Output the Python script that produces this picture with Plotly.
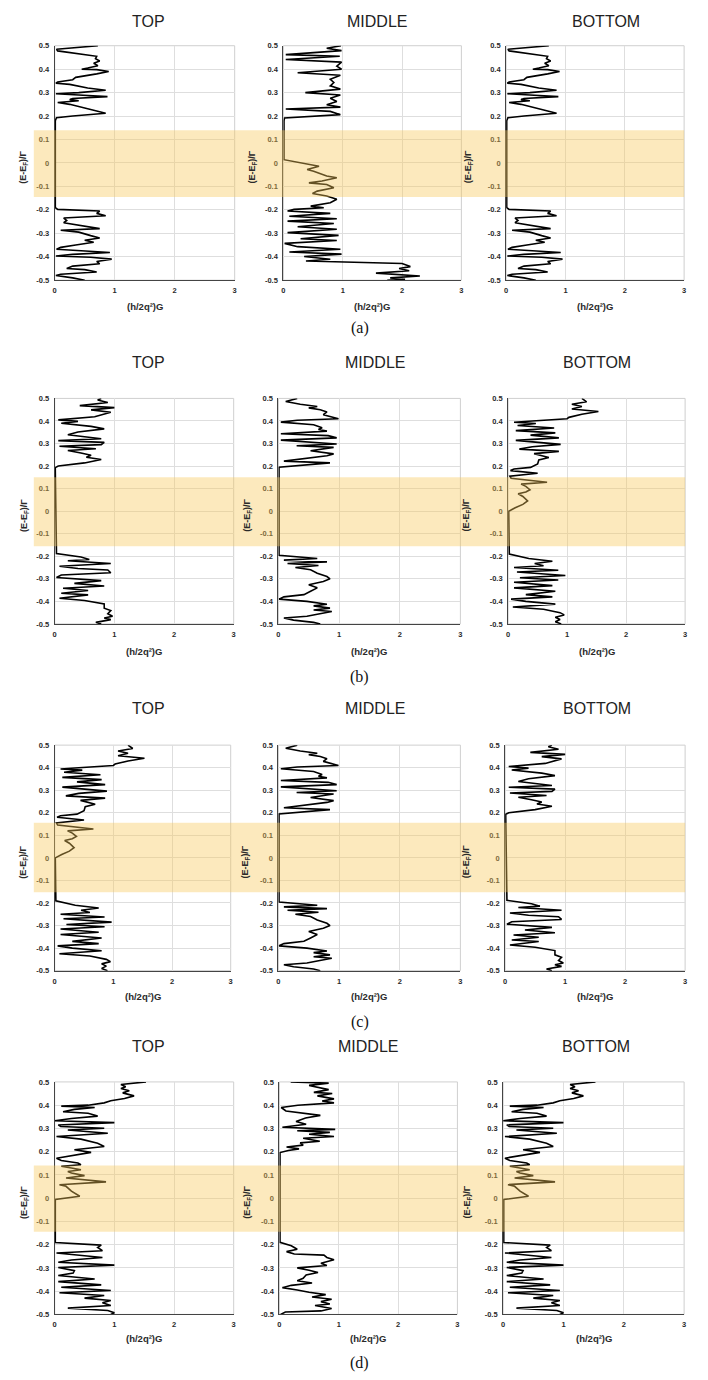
import plotly.graph_objects as go

W, H = 708, 1380

# ---------------- tick labels / texts ----------------
y_tick_vals = [0.5, 0.4, 0.3, 0.2, 0.1, 0.0, -0.1, -0.2, -0.3, -0.4, -0.5]
y_tick_text = ["0.5", "0.4", "0.3", "0.2", "0.1", "0", "-0.1", "-0.2", "-0.3", "-0.4", "-0.5"]
x_tick_vals = [0, 1, 2, 3]
x_tick_text = ["0", "1", "2", "3"]

column_titles = ["TOP", "MIDDLE", "BOTTOM"]
row_labels = ["(a)", "(b)", "(c)", "(d)"]
x_title = "(h/2q²)G"
y_title = "(E-E<sub>F</sub>)/Γ"

# ---------------- curves: energy (E) and conductance (G) ----------------
A_E = [0.500, 0.485, 0.478, 0.455, 0.445, 0.435, 0.425, 0.415, 0.405, 0.400, 0.398, 0.390, 0.380,
       0.365, 0.355, 0.345, 0.340, 0.335, 0.320, 0.310, 0.300, 0.295, 0.290, 0.283, 0.275, 0.270,
       0.265, 0.258, 0.250, 0.230, 0.212, 0.200, 0.193, 0.180, -0.190, -0.198, -0.205, -0.215,
       -0.225, -0.235, -0.245, -0.255, -0.265, -0.280, -0.287, -0.295, -0.310, -0.320, -0.330,
       -0.338, -0.350, -0.360, -0.368, -0.375, -0.382, -0.390, -0.397, -0.402, -0.410, -0.420,
       -0.430, -0.440, -0.450, -0.455, -0.465, -0.475, -0.480, -0.490, -0.500]
A_G = [0.72, 0.03, 0.05, 0.70, 0.68, 0.75, 0.65, 0.72, 0.55, 0.45, 0.70, 0.90, 0.70,
       0.35, 0.30, 0.05, 0.02, 0.25, 0.55, 0.85, 0.40, 0.02, 0.40, 0.88, 0.30, 0.25,
       0.40, 0.05, 0.25, 0.55, 0.85, 0.30, 0.03, 0.01, 0.01, 0.05, 0.75, 0.70,
       0.85, 0.15, 0.20, 0.15, 0.40, 0.75, 0.10, 0.40, 0.60, 0.75, 0.50,
       0.65, 0.35, 0.10, 0.03, 0.60, 0.92, 0.30, 0.02, 0.60, 0.95, 0.70,
       0.75, 0.30, 0.20, 0.50, 0.70, 0.10, 0.02, 0.30, 0.50]

B_E = [0.500, 0.489, 0.479, 0.462, 0.455, 0.441, 0.430, 0.413, 0.400, 0.385, 0.374, 0.357, 0.343,
       0.329, 0.315, 0.300, 0.290, 0.276, 0.262, 0.248, 0.238, 0.230, 0.220, 0.206, 0.192, 0.180,
       0.014, -0.014, -0.028, -0.035, -0.056, -0.063, -0.077, -0.085, -0.092, -0.106, -0.120,
       -0.130, -0.141, -0.155, -0.170, -0.184, -0.191, -0.198, -0.205, -0.215, -0.227, -0.238,
       -0.248, -0.258, -0.272, -0.283, -0.297, -0.309, -0.323, -0.331, -0.343, -0.357, -0.368,
       -0.380, -0.389, -0.399, -0.411, -0.418, -0.429, -0.442, -0.450, -0.460, -0.470, -0.482,
       -0.490, -0.496, -0.500]
B_G = [0.97, 0.73, 0.98, 0.04, 0.95, 0.04, 0.98, 0.90, 0.98, 0.24, 0.96, 0.79, 0.85,
       0.79, 0.96, 0.37, 0.96, 0.79, 0.90, 0.73, 0.96, 0.04, 0.79, 0.96, 0.02, 0.01,
       0.01, 0.60, 0.40, 0.51, 0.73, 0.90, 0.65, 0.43, 0.73, 0.85, 0.57,
       0.49, 0.73, 0.90, 0.79, 0.46, 0.68, 0.18, 0.07, 0.79, 0.10, 0.90,
       0.07, 0.85, 0.24, 0.90, 0.07, 0.93, 0.29, 0.90, 0.02, 0.24, 0.96,
       0.10, 0.98, 0.35, 0.79, 0.38, 2.00, 2.14, 1.95, 2.12, 1.56, 2.30,
       1.80, 2.05, 1.75]

C_E = [0.500, 0.493, 0.482, 0.468, 0.459, 0.449, 0.439, 0.419, 0.405, 0.398, 0.390, 0.376, 0.365,
       0.351, 0.339, 0.327, 0.321, 0.313, 0.305, 0.295, 0.288, 0.277, 0.269, 0.258, 0.248, 0.239,
       0.229, 0.214, 0.200, 0.193, 0.180, -0.188, -0.203, -0.214, -0.220, -0.232, -0.244, -0.254,
       -0.261, -0.273, -0.283, -0.294, -0.308, -0.320, -0.332, -0.342, -0.352, -0.364, -0.371,
       -0.386, -0.396, -0.411, -0.430, -0.441, -0.455, -0.466, -0.474, -0.481, -0.493, -0.500]
C_G = [0.78, 0.72, 0.89, 0.42, 1.00, 0.61, 0.94, 0.67, 0.06, 0.39, 0.11, 0.61, 0.83,
       0.39, 0.22, 0.61, 0.78, 0.06, 0.83, 0.78, 0.08, 0.69, 0.22, 0.44, 0.61, 0.53,
       0.78, 0.50, 0.06, 0.01, 0.01, 0.03, 0.44, 0.58, 0.22, 0.94, 0.08, 0.39,
       0.89, 0.94, 0.11, 0.03, 0.78, 0.33, 0.83, 0.14, 0.56, 0.11, 0.56,
       0.08, 0.50, 0.83, 0.83, 0.94, 0.89, 0.97, 0.83, 0.94, 0.69, 0.78]

D_E = [0.500, 0.486, 0.474, 0.464, 0.458, 0.450, 0.440, 0.428, 0.410, 0.403, 0.395, 0.383, 0.370,
       0.362, 0.355, 0.343, 0.335, 0.325, 0.315, 0.305, 0.298, 0.290, 0.283, 0.268, 0.254, 0.246,
       0.232, 0.222, 0.214, 0.200, 0.195, -0.196, -0.210, -0.217, -0.225, -0.232, -0.241, -0.250,
       -0.260, -0.275, -0.290, -0.300, -0.312, -0.326, -0.340, -0.355, -0.370, -0.380, -0.390,
       -0.400, -0.413, -0.420, -0.430, -0.438, -0.445, -0.457, -0.466, -0.474, -0.483, -0.493, -0.500]
D_G = [0.31, 0.12, 0.36, 0.64, 0.50, 0.69, 0.80, 0.74, 0.99, 0.31, 0.04, 0.58, 0.72,
       0.66, 0.80, 0.04, 0.82, 0.96, 0.04, 0.50, 0.96, 0.30, 0.91, 0.53, 0.91, 0.80,
       0.42, 0.09, 0.85, 0.20, 0.01, 0.01, 0.64, 0.09, 0.80, 0.15, 0.66, 0.28,
       0.53, 0.64, 0.80, 0.85, 0.74, 0.50, 0.64, 0.53, 0.42, 0.09, 0.01,
       0.47, 0.80, 0.58, 0.85, 0.58, 0.88, 0.64, 0.47, 0.09, 0.25, 0.58, 0.69]

E_E = [0.500, 0.485, 0.474, 0.464, 0.453, 0.442, 0.430, 0.416, 0.410, 0.405, 0.400, 0.394, 0.389,
       0.380, 0.369, 0.357, 0.347, 0.337, 0.325, 0.314, 0.296, 0.286, 0.275, 0.265, 0.255, 0.238,
       0.227, 0.209, 0.194, 0.187, 0.180, 0.168, 0.155, 0.146, 0.138, 0.128, 0.120, 0.110, 0.095,
       0.085, 0.077, 0.065, 0.045, 0.030, 0.015, 0.000, -0.190, -0.210, -0.222, -0.232, -0.242,
       -0.250, -0.262, -0.270, -0.285, -0.295, -0.305, -0.315, -0.330, -0.340, -0.355, -0.370,
       -0.380, -0.390, -0.400, -0.412, -0.425, -0.435, -0.450, -0.460, -0.470, -0.480, -0.490, -0.500]
E_G = [1.25, 1.33, 1.08, 1.25, 1.08, 1.53, 1.25, 1.03, 1.00, 0.63, 0.41, 0.10, 0.47,
       0.16, 0.78, 0.13, 0.80, 0.38, 0.86, 0.13, 0.89, 0.41, 0.19, 0.86, 0.44, 0.69,
       0.52, 0.50, 0.38, 0.10, 0.04, 0.50, 0.03, 0.05, 0.30, 0.66, 0.22, 0.30, 0.37,
       0.30, 0.17, 0.25, 0.33, 0.25, 0.12, 0.01, 0.02, 0.35, 0.75, 0.45, 0.60,
       0.10, 0.85, 0.15, 0.97, 0.20, 0.85, 0.10, 0.75, 0.10, 0.80, 0.30,
       0.75, 0.05, 0.30, 0.80, 0.08, 0.60, 0.88, 0.95, 0.80, 0.88, 0.80, 0.90]

F_E = [0.500, 0.489, 0.479, 0.472, 0.462, 0.453, 0.440, 0.429, 0.419, 0.410, 0.400, 0.396, 0.390,
       0.382, 0.372, 0.365, 0.353, 0.343, 0.333, 0.325, 0.315, 0.308, 0.301, 0.293, 0.279, 0.265,
       0.254, 0.236, 0.222, 0.208, 0.197, 0.187, 0.172, 0.162, 0.151, 0.144, 0.137, 0.130, 0.122,
       0.115, 0.108, 0.097, 0.087, 0.070, 0.058, 0.051, 0.030, 0.008, -0.006, -0.191, -0.202,
       -0.212, -0.226, -0.236, -0.248, -0.255, -0.266, -0.276, -0.288, -0.298, -0.312, -0.322,
       -0.333, -0.348, -0.359, -0.373, -0.383, -0.397, -0.407, -0.419, -0.430, -0.440, -0.450,
       -0.462, -0.473, -0.483, -0.493, -0.500]
F_G = [1.53, 1.11, 1.19, 1.11, 1.25, 1.14, 1.33, 1.17, 0.94, 0.83, 0.56, 0.11, 0.67,
       0.33, 0.14, 0.56, 0.72, 0.28, 0.00, 1.00, 0.06, 0.10, 0.83, 0.22, 0.89, 0.03,
       0.44, 0.72, 0.83, 0.33, 0.61, 0.39, 0.03, 0.11, 0.39, 0.44, 0.11, 0.28, 0.44,
       0.22, 0.28, 0.50, 0.19, 0.86, 0.08, 0.19, 0.28, 0.42, 0.01, 0.01, 0.78,
       0.72, 0.80, 0.03, 0.56, 0.80, 0.28, 0.06, 1.00, 0.06, 0.33, 0.31,
       0.06, 0.67, 0.06, 0.78, 0.11, 0.94, 0.08, 0.83, 0.50, 0.94, 0.80,
       0.94, 0.22, 0.89, 1.00, 0.94]

G_E = [0.500, 0.495, 0.485, 0.467, 0.455, 0.450, 0.440, 0.427, 0.418, 0.410, 0.400, 0.390, 0.375,
       0.365, 0.356, 0.345, 0.330, 0.318, 0.305, 0.296, 0.290, 0.283, 0.275, 0.265, 0.258, 0.245,
       0.238, 0.228, 0.220, 0.212, 0.205, 0.196, -0.190, -0.205, -0.220, -0.230, -0.240, -0.245,
       -0.255, -0.265, -0.280, -0.290, -0.300, -0.310, -0.320, -0.330, -0.345, -0.355, -0.365,
       -0.375, -0.385, -0.395, -0.405, -0.415, -0.425, -0.435, -0.445, -0.455, -0.462, -0.475,
       -0.485, -0.490, -0.500]
G_G = [0.19, 0.83, 0.50, 0.83, 0.58, 0.89, 0.64, 0.92, 0.72, 0.92, 0.31, 0.03, 0.11,
       0.44, 0.69, 0.44, 0.28, 0.45, 0.05, 0.94, 0.30, 0.85, 0.50, 0.92, 0.40, 0.68,
       0.35, 0.40, 0.12, 0.33, 0.15, 0.01, 0.01, 0.20, 0.30, 0.12, 0.25, 0.75,
       0.80, 0.92, 0.70, 0.80, 0.30, 0.50, 0.65, 0.45, 0.40, 0.30, 0.55,
       0.20, 0.05, 0.30, 0.50, 0.78, 0.55, 0.88, 0.70, 0.85, 0.60, 0.88,
       0.70, 0.10, 0.02]

curves = {"A": (A_E, A_G), "B": (B_E, B_G), "C": (C_E, C_G), "D": (D_E, D_G),
          "E": (E_E, E_G), "F": (F_E, F_G), "G": (G_E, G_G)}
row_curves = [["A", "B", "A"], ["C", "D", "E"], ["E", "D", "C"], ["F", "G", "F"]]
band_lo = [-0.145, -0.155, -0.152, -0.145]
band_hi = [0.140, 0.150, 0.156, 0.141]

# ---------------- layout geometry (pixels) ----------------
rows_px = [(42, 278), (397, 624), (746, 973), (1085, 1319)]
cols_px = [[(53, 234), (283, 462), (507, 686)],
           [(53, 233), (278, 461), (509, 687)],
           [(53, 230), (278, 461), (506, 687)],
           [(53, 233), (279, 458), (504, 686)]]
title_y = [18, 361, 709, 1049]
title_x = [[147, 377, 607], [147, 375, 598], [147, 375, 598], [147, 368, 597]]
ytitle_x = [[22, 252, 470], [22, 247, 467], [22, 245, 468], [22, 247, 468]]
xtitle_y = [304, 652, 999, 1343]
label_y = [326, 677, 1025, 1368]
label_x = 360
band_x = [(32, 686), (32, 687), (32, 687), (32, 686)]

FONT = "Liberation Sans, Arial, sans-serif"
SERIF = "Liberation Serif, Times New Roman, serif"


def px(x):
    return x / W


def py(y):
    return 1 - y / H


def sfx(k):
    return "" if k == 1 else str(k)


fig = go.Figure()
layout = {}
shapes = []
annotations = []

k = 0
for r in range(4):
    top, bot = rows_px[r]
    first_k = k + 1
    for c in range(3):
        k += 1
        s = sfx(k)
        L, R = cols_px[r][c]
        Ed, Gd = curves[row_curves[r][c]]
        fig.add_trace(go.Scatter(x=Gd, y=Ed, mode="lines",
                                 line=dict(color="black", width=1.6),
                                 xaxis=f"x{s}", yaxis=f"y{s}",
                                 showlegend=False, hoverinfo="skip"))
        layout[f"xaxis{s}"] = dict(
            domain=[px(L), px(R)], anchor=f"y{s}", range=[0, 3],
            tickvals=x_tick_vals, ticktext=x_tick_text,
            showgrid=True, gridcolor="#dedede", gridwidth=1,
            showline=True, linecolor="#444", linewidth=1, zeroline=False,
            ticks="outside", ticklen=3, tickcolor="rgba(0,0,0,0)",
            tickfont=dict(family=FONT, size=7.5, color="#2a2a2a", weight="bold"),
            fixedrange=True)
        layout[f"yaxis{s}"] = dict(
            domain=[py(bot), py(top)], anchor=f"x{s}", range=[-0.5, 0.5],
            tickvals=y_tick_vals, ticktext=y_tick_text,
            showgrid=True, gridcolor="#dedede", gridwidth=1,
            showline=True, linecolor="#444", linewidth=1, zeroline=False,
            ticks="outside", ticklen=3, tickcolor="rgba(0,0,0,0)",
            tickfont=dict(family=FONT, size=7.5, color="#2a2a2a", weight="bold"),
            fixedrange=True)
        # light top/right frame
        shapes.append(dict(type="rect", xref=f"x{s} domain", yref=f"y{s} domain",
                           x0=0, x1=1, y0=0, y1=1, layer="below",
                           line=dict(color="#cfcfcf", width=1)))
        annotations.append(dict(text=column_titles[c], x=px(title_x[r][c]), y=py(title_y[r]),
                                xref="paper", yref="paper", xanchor="center", yanchor="middle",
                                showarrow=False, font=dict(family=FONT, size=16, color="#222")))
        annotations.append(dict(text=x_title, x=px((L + R) / 2), y=py(xtitle_y[r]),
                                xref="paper", yref="paper", xanchor="center", yanchor="middle",
                                showarrow=False,
                                font=dict(family=FONT, size=9.5, color="#2a2a2a", weight="bold")))
        annotations.append(dict(text=y_title, x=px(ytitle_x[r][c]), y=py((top + bot) / 2 + 4),
                                xref="paper", yref="paper", xanchor="center", yanchor="middle",
                                textangle=-90, showarrow=False,
                                font=dict(family=FONT, size=9, color="#2a2a2a", weight="bold")))
    # shaded band across the row
    shapes.append(dict(type="rect", xref="paper", yref=f"y{sfx(first_k)}",
                       x0=px(band_x[r][0]), x1=px(band_x[r][1]),
                       y0=band_lo[r], y1=band_hi[r], layer="above",
                       fillcolor="rgba(247,200,90,0.40)", line=dict(width=0)))
    annotations.append(dict(text=row_labels[r], x=px(label_x), y=py(label_y[r]),
                            xref="paper", yref="paper", xanchor="center", yanchor="middle",
                            showarrow=False, font=dict(family=SERIF, size=16, color="#111")))

fig.update_layout(**layout)
fig.update_layout(width=W, height=H, margin=dict(l=0, r=0, t=0, b=0),
                  paper_bgcolor="white", plot_bgcolor="white",
                  shapes=shapes, annotations=annotations, showlegend=False)

fig.write_html("out.html", config={"displayModeBar": False})
